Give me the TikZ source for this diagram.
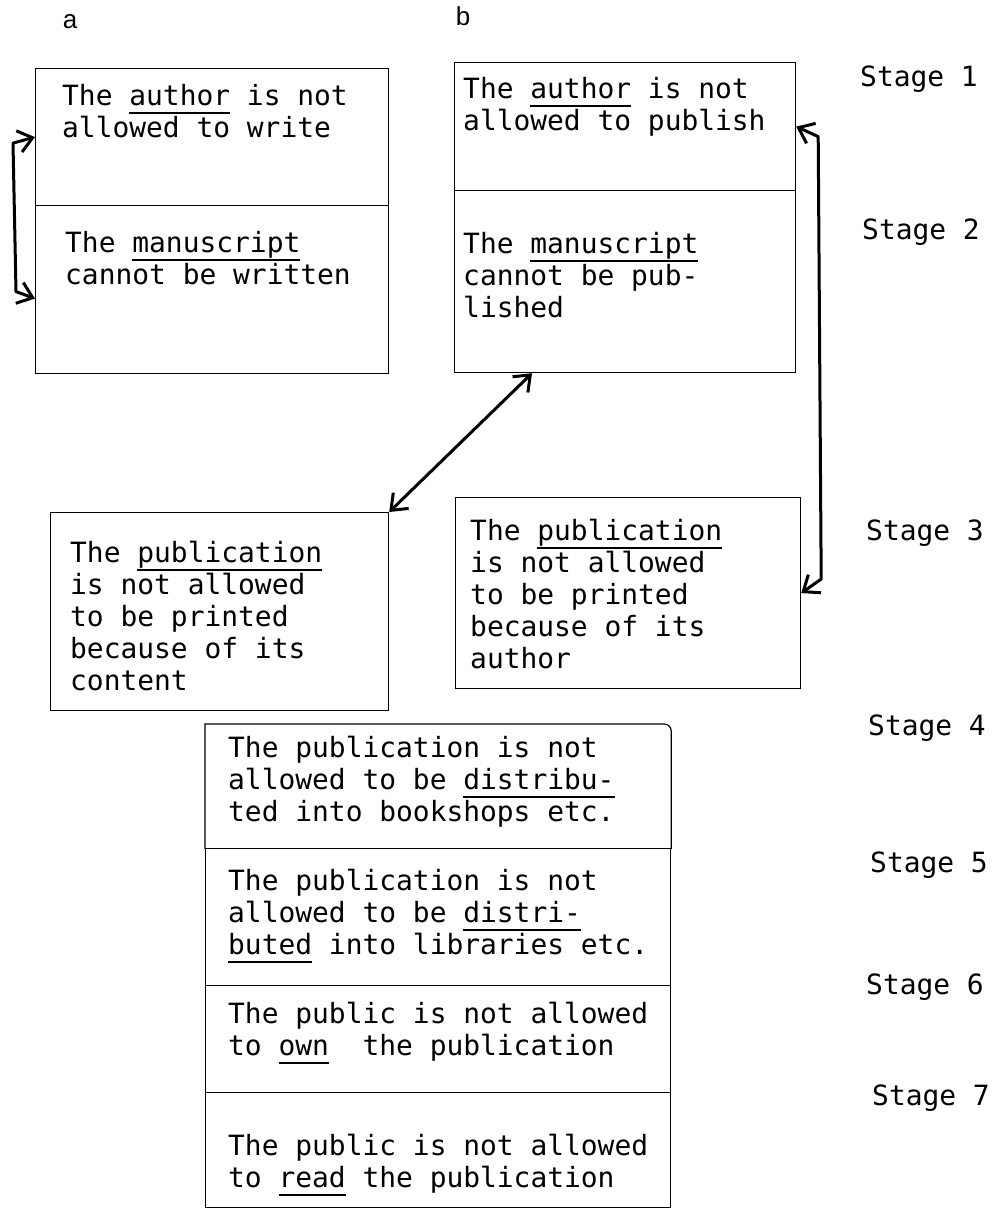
\documentclass[tikz,border=0pt]{standalone}
\usepackage{fontspec}
\usetikzlibrary{arrows.meta,calc}
\newfontfamily\tw{DejaVu Sans Mono}
\newfontfamily\hv{Liberation Sans}
% typewriter underline at a fixed depth below the baseline
\newcommand\ul[1]{\setbox0=\hbox{#1}\rlap{\rule[-0.3em]{\wd0}{1.3pt}}\box0\relax}
\newcommand\fst{\rule{0pt}{24pt}}
\begin{document}
\begin{tikzpicture}[x=1pt,y=-1pt,
  sec/.style={draw, line width=1.2pt, anchor=north west, inner sep=0pt},
  txt/.style={anchor=north west, inner sep=0pt, align=left,
    font=\tw\fontsize{27.9}{32}\selectfont},
  lbl/.style={anchor=base, inner sep=0pt, font=\hv\fontsize{26}{30}\selectfont},
  conn/.style={line width=3pt, line join=round,
    arrows={Straight Barb[length=14pt,width=22pt,line width=3pt]-Straight Barb[length=14pt,width=22pt,line width=3pt]}}]
\useasboundingbox (0,0) rectangle (1003,1213);

% column labels
\node[lbl] (la) at (70,28) {a};
\node[lbl] (lb) at (463,25) {b};

% column a: stages 1 and 2
\node[sec, minimum width=353pt, minimum height=137pt] (a1) at (35,68) {};
\node[sec, minimum width=353pt, minimum height=168pt] (a2) at (35,205) {};
\node[txt] (ta1) at (62,81) {\fst The \ul{author} is not\\allowed to write};
\node[txt] (ta2) at (65,228) {\fst The \ul{manuscript}\\cannot be written};

% column b: stages 1 and 2
\node[sec, minimum width=341pt, minimum height=128pt] (b1) at (454,62) {};
\node[sec, minimum width=341pt, minimum height=182pt] (b2) at (454,190) {};
\node[txt] (tb1) at (463,74) {\fst The \ul{author} is not\\allowed to publish};
\node[txt] (tb2) at (463,229) {\fst The \ul{manuscript}\\cannot be pub-\\lished};

% stage 3
\node[sec, minimum width=338pt, minimum height=198pt] (a3) at (50,512) {};
\node[txt] (ta3) at (70,538) {\fst The \ul{publication}\\is not allowed\\to be printed\\because of its\\content};
\node[sec, minimum width=345pt, minimum height=191pt] (b3) at (455,497) {};
\node[txt] (tb3) at (470,516) {\fst The \ul{publication}\\is not allowed\\to be printed\\because of its\\author};

% stages 4 to 7
\node[sec, draw=none, minimum width=465pt, minimum height=124pt] (s4) at (205,724) {};
\draw[line width=1.2pt] (s4.south west) -- (s4.north west)
  [rounded corners=7pt] -- (s4.north east) [sharp corners] -- (s4.south east);
\node[sec, minimum width=465pt, minimum height=137pt] (s5) at (205,848) {};
\node[sec, minimum width=465pt, minimum height=107pt] (s6) at (205,985) {};
\node[sec, minimum width=465pt, minimum height=115pt] (s7) at (205,1092) {};
\node[txt] (t4) at (228,733) {\fst The publication is not\\allowed to be \ul{distribu-}\\ted into bookshops etc.};
\node[txt] (t5) at (228,866) {\fst The publication is not\\allowed to be \ul{distri-}\\\ul{buted} into libraries etc.};
\node[txt] (t6) at (228,999) {\fst The public is not allowed\\to \ul{own}\ \ the publication};
\node[txt] (t7) at (228,1131) {\fst The public is not allowed\\to \ul{read} the publication};

% stage labels
\node[txt] (st1) at (860,62) {\fst Stage 1};
\node[txt] (st2) at (862,215) {\fst Stage 2};
\node[txt] (st3) at (866,516) {\fst Stage 3};
\node[txt] (st4) at (868,711) {\fst Stage 4};
\node[txt] (st5) at (870,848) {\fst Stage 5};
\node[txt] (st6) at (866,970) {\fst Stage 6};
\node[txt] (st7) at (872,1081) {\fst Stage 7};

% connectors
\draw[conn] (a1.west) -- ($(a1.west)+(-22,6)$) -- ($(a2.west)+(-19,2)$) -- ($(a2.west)+(0,9)$);
\draw[conn] (b1.east) -- ($(b1.east)+(22,10)$) -- ($(b3.east)+(20,-14)$) -- (b3.east);
\draw[conn] ($(b2.south west)+(78,0)$) -- (a3.north east);
\end{tikzpicture}
\end{document}
